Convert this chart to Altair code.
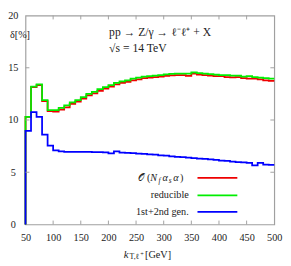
import altair as alt
import pandas as pd

# bin lower edges (10 GeV bins from 50 to 500)
bins = list(range(50, 500, 10))

red_vals = [10.3, 13.15, 13.35, 11.8, 10.85, 10.8, 11.0, 11.2, 11.55, 11.75,
            12.05, 12.35, 12.55, 12.8, 13.0, 13.2, 13.4, 13.55, 13.65, 13.8,
            13.9, 14.0, 14.05, 14.1, 14.15, 14.22, 14.28, 14.3, 14.3, 14.22,
            14.45, 14.35, 14.3, 14.25, 14.2, 14.2, 14.1, 14.08, 14.1, 14.0,
            13.95, 13.95, 13.9, 13.8, 13.75]
green_vals = [10.3, 13.2, 13.4, 11.9, 10.95, 10.95, 11.15, 11.4, 11.7, 11.9,
              12.2, 12.5, 12.7, 12.95, 13.15, 13.35, 13.55, 13.7, 13.8, 13.95,
              14.05, 14.15, 14.2, 14.25, 14.3, 14.38, 14.42, 14.45, 14.45, 14.45,
              14.55, 14.5, 14.45, 14.4, 14.35, 14.3, 14.3, 14.25, 14.25, 14.15,
              14.2, 14.1, 14.05, 14.0, 13.95]
blue_vals = [8.95, 10.75, 10.3, 8.6, 7.55, 7.1, 7.0, 6.95, 6.95, 6.95,
             6.95, 6.95, 6.92, 6.92, 6.9, 6.8, 7.0, 6.88, 6.85, 6.82,
             6.78, 6.75, 6.72, 6.68, 6.62, 6.58, 6.52, 6.48, 6.44, 6.4,
             6.35, 6.3, 6.27, 6.22, 6.18, 6.12, 6.08, 6.02, 5.98, 5.95,
             5.9, 5.65, 5.9, 5.72, 5.7]

x_ticks = [100, 150, 200, 250, 300, 350, 400, 450]
y_ticks = [5, 10, 15]
x_labels = [50, 100, 150, 200, 250, 300, 350, 400, 450, 500]
y_labels = [0, 5, 10, 15, 20]

W, H = 256, 215
FONT = "Liberation Serif"
FRAME = "#a0a0a0"


def steps(vals):
    xs = [50] + bins + [500]
    ys = [0] + vals + [vals[-1]]
    return pd.DataFrame({"x": xs, "y": ys})


xscale = alt.Scale(domain=[50, 500], nice=False, zero=False)
yscale = alt.Scale(domain=[0, 20], nice=False)
X_AXIS = alt.Axis(values=x_labels, title=None, labelPadding=9,
                  labelOverlap=False, labelFlush=False)
Y_AXIS = alt.Axis(values=y_labels, title=None, labelAlign="center",
                  labelPadding=13, labelOverlap=False, labelFlush=False)


def X(field):
    return alt.X(field, scale=xscale, axis=X_AXIS)


def Y(field):
    return alt.Y(field, scale=yscale, axis=Y_AXIS)


def series(vals, color):
    return alt.Chart(steps(vals)).mark_line(
        interpolate="step-after", color=color, strokeWidth=1.8
    ).encode(x=X("x:Q"), y=Y("y:Q"))


def txt(s, x, y, size=10.5, align="left", style="normal"):
    return alt.Chart(pd.DataFrame({"t": [s]})).mark_text(
        font=FONT, fontSize=size, align=align, baseline="middle",
        fontStyle=style, color="#222"
    ).encode(x=alt.value(x), y=alt.value(y), text="t:N")


xt = pd.DataFrame({"x": x_ticks})
yt = pd.DataFrame({"y": y_ticks})
tick_b = alt.Chart(xt).mark_rule(color=FRAME).encode(
    x=X("x:Q"), y=alt.value(H), y2=alt.value(H - 4))
tick_t = alt.Chart(xt).mark_rule(color=FRAME).encode(
    x=X("x:Q"), y=alt.value(0), y2=alt.value(4))
tick_l = alt.Chart(yt).mark_rule(color=FRAME).encode(
    y=Y("y:Q"), x=alt.value(0), x2=alt.value(4))
tick_r = alt.Chart(yt).mark_rule(color=FRAME).encode(
    y=Y("y:Q"), x=alt.value(W), x2=alt.value(W - 4))

legend_rows = [("", "#ee0000", 167), ("reducible", "#00ee00", 185),
               ("1st+2nd gen.", "#0000ff", 202)]
legend_layers = []
for label, col, yy in legend_rows:
    legend_layers.append(
        alt.Chart(pd.DataFrame({"a": [0]})).mark_rule(color=col, strokeWidth=1.8)
        .encode(x=alt.value(177), x2=alt.value(218), y=alt.value(yy)))
    if label:
        legend_layers.append(txt(label, 168, yy, align="right"))

# O(N_f alpha_s alpha) label built from pieces
ocal = [
    txt("𝒪", 116, 167, size=10),
    txt("(", 125, 167),
    txt("N", 128.5, 167, style="italic"),
    txt("f", 137, 170, size=7.5, style="italic"),
    txt("α", 141, 167, style="italic"),
    txt("s", 147.5, 170, size=7.5, style="italic"),
    txt("α", 152, 167, style="italic"),
    txt(")", 159, 167),
]

texts = [
    txt("pp  →  Z/γ  →  ℓ⁻ℓ⁺  +  X", 86, 17, size=12),
    txt("√s  =  14 TeV", 86, 33, size=12),
    txt("δ[%]", -16, 20, align="left"),
    txt("k", 101, 246, size=11, style="italic"),
    txt("T,ℓ", 107, 249, size=8),
    txt("+", 118, 245, size=6.5),
    txt("[GeV]", 123, 246),
]

chart = alt.layer(
    series(red_vals, "#ee0000"),
    series(green_vals, "#00ee00"),
    series(blue_vals, "#0000ff"),
    tick_b, tick_t, tick_l, tick_r,
    *legend_layers, *ocal, *texts,
).properties(
    width=W, height=H,
    autosize=alt.AutoSizeParams(type="none"),
    padding={"left": 18, "top": 4, "right": 9, "bottom": 40},
).configure_view(
    stroke=FRAME, strokeWidth=1.2
).configure_axis(
    domain=False, ticks=False, grid=False, labelFont=FONT, labelFontSize=10.5,
    labelColor="#222", labelOverlap=False
)

chart.save("out.html", embed_options={"renderer": "svg", "actions": False})
